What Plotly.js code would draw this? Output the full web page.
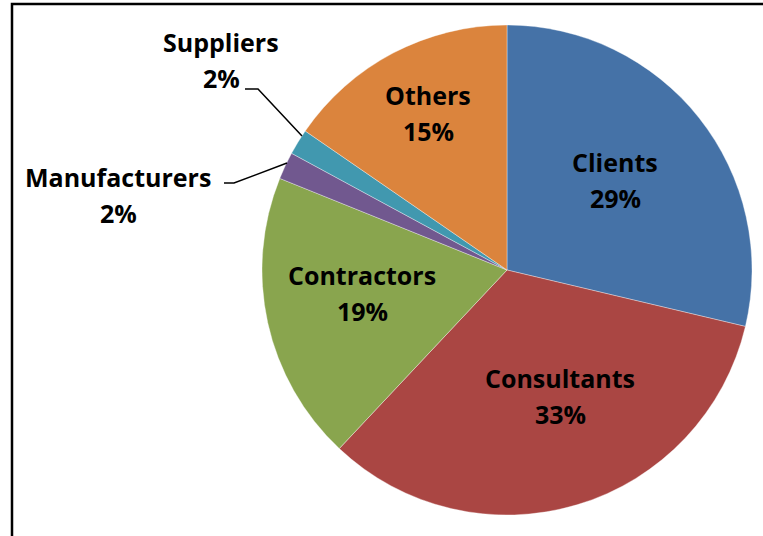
<!DOCTYPE html>
<html>
<head>
<meta charset="utf-8">
<script src="https://cdn.plot.ly/plotly-3.0.1.min.js"></script>
<style>html,body{margin:0;padding:0;background:#fff;}#chart{width:763px;height:536px;}</style>
</head>
<body>
<div id="chart"></div>
<script>
// Data
const categories = ["Clients", "Consultants", "Contractors", "Manufacturers", "Suppliers", "Others"];
const shares = [28.7, 33.3, 19.1, 1.8, 1.7, 15.4];
const sliceColors = ["#4572A7", "#AA4643", "#89A54E", "#71588F", "#4198AF", "#DB843D"];

// Label placement (pixels in the 763x536 frame)
const labelPos = [[615,180],[560,396],[362,293],[118,195],[221,60],[428,113]];
const W = 763, H = 536;
const px = x => x / W, py = y => 1 - y / H;

const total = shares.reduce((a,b)=>a+b,0);
const font = {family: '"Open Sans", "Noto Sans", sans-serif', size: 25, color: '#000', weight: 700};
const annotations = [];
categories.forEach((c,i) => {
  const lines = [c, Math.round(shares[i] / total * 100) + '%'];
  lines.forEach((t,k) => annotations.push({
    xref: 'paper', yref: 'paper',
    x: px(labelPos[i][0]), y: py(labelPos[i][1] + (k ? 18 : -18)),
    xanchor: 'center', yanchor: 'middle', showarrow: false,
    text: t, font: font
  }));
});

function path(pts){ return pts.map((p,i)=>(i?'L':'M')+px(p[0])+','+py(p[1])).join(' '); }

const shapes = [
  {type:'rect', xref:'paper', yref:'paper', x0:px(12), x1:1.02, y0:-0.02, y1:py(4), line:{color:'#000', width:2.5}, fillcolor:'rgba(0,0,0,0)'},
  {type:'path', xref:'paper', yref:'paper', path: path([[245,89],[258,89],[302,136]]), line:{color:'#000', width:1.5}},
  {type:'path', xref:'paper', yref:'paper', path: path([[224,183],[234,183],[287,163]]), line:{color:'#000', width:1.5}}
];

Plotly.newPlot('chart', [{
  type: 'pie',
  labels: categories,
  values: shares,
  sort: false,
  direction: 'clockwise',
  rotation: 0,
  textinfo: 'none',
  hoverinfo: 'label+percent',
  marker: {colors: sliceColors, line: {color: 'rgba(255,255,255,0.35)', width: 1}},
  domain: {x: [px(262), px(752)], y: [py(515), py(25)]},
  showlegend: false
}], {
  width: W, height: H,
  margin: {l:0, r:0, t:0, b:0},
  paper_bgcolor: '#fff',
  annotations: annotations,
  shapes: shapes
}, {displayModeBar: false, staticPlot: true});
</script>
</body>
</html>
